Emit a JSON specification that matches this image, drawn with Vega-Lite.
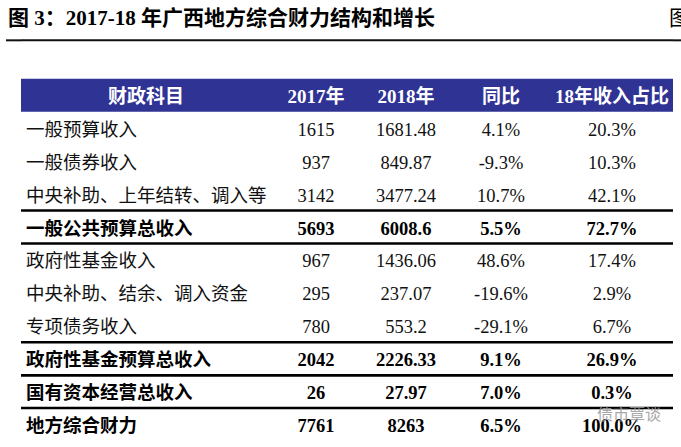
{
  "$schema": "https://vega.github.io/schema/vega-lite/v6.json",
  "background": "white",
  "padding": {"left": 5, "top": 7, "right": 0, "bottom": 0},
  "spacing": 0,
  "bounds": "flush",
  "config": {
    "view": {"stroke": null},
    "locale": {"number": {"decimal": ".", "thousands": ",", "grouping": [3], "currency": ["$", ""], "minus": "-"}}
  },
  "datasets": {
    "meta": [{"title": "图 3：2017-18 年广西地方综合财力结构和增长", "next": "图", "source": "债市覃谈"}],
    "columns": [
      {"col": "item", "label": "财政科目"},
      {"col": "v2017", "label": "2017年"},
      {"col": "v2018", "label": "2018年"},
      {"col": "yoy", "label": "同比"},
      {"col": "share", "label": "18年收入占比"}
    ],
    "rows": [
      {"row": 1, "item": "一般预算收入", "v2017": 1615, "v2018": 1681.48, "yoy": 0.041, "share": 0.203, "kind": "detail"},
      {"row": 2, "item": "一般债券收入", "v2017": 937, "v2018": 849.87, "yoy": -0.093, "share": 0.103, "kind": "detail"},
      {"row": 3, "item": "中央补助、上年结转、调入等", "v2017": 3142, "v2018": 3477.24, "yoy": 0.107, "share": 0.421, "kind": "detail"},
      {"row": 4, "item": "一般公共预算总收入", "v2017": 5693, "v2018": 6008.6, "yoy": 0.055, "share": 0.727, "kind": "subtotal"},
      {"row": 5, "item": "政府性基金收入", "v2017": 967, "v2018": 1436.06, "yoy": 0.486, "share": 0.174, "kind": "detail"},
      {"row": 6, "item": "中央补助、结余、调入资金", "v2017": 295, "v2018": 237.07, "yoy": -0.196, "share": 0.029, "kind": "detail"},
      {"row": 7, "item": "专项债务收入", "v2017": 780, "v2018": 553.2, "yoy": -0.291, "share": 0.067, "kind": "detail"},
      {"row": 8, "item": "政府性基金预算总收入", "v2017": 2042, "v2018": 2226.33, "yoy": 0.091, "share": 0.269, "kind": "subtotal"},
      {"row": 9, "item": "国有资本经营总收入", "v2017": 26, "v2018": 27.97, "yoy": 0.07, "share": 0.003, "kind": "subtotal"},
      {"row": 10, "item": "地方综合财力", "v2017": 7761, "v2018": 8263, "yoy": 0.065, "share": 1, "kind": "total"}
    ]
  },
  "hconcat": [
    {
      "width": 15, "height": 428,
      "layer": [
        {"data": {"name": "meta"}, "transform": [{"calculate": "-2", "as": "slot"}], "mark": {"type": "rule", "strokeWidth": 2, "color": "#111"},
         "encoding": {"y": {"field": "slot", "type": "ordinal", "bandPosition": 0.83, "scale": {"type": "band", "domain": [-2,-1,0,1,2,3,4,5,6,7,8,9,10], "paddingInner": 0, "paddingOuter": 0}, "axis": null}}},
        {"data": {"name": "meta"}, "mark": {"type": "text", "align": "left", "baseline": "middle", "dx": 2, "font": "Liberation Serif, Noto Sans CJK SC", "fontSize": 21, "fontWeight": "bold", "color": "#000"},
         "encoding": {
           "x": {"datum": "t", "type": "nominal", "bandPosition": 0, "scale": {"type": "band", "paddingInner": 0, "paddingOuter": 0}, "axis": null},
           "y": {"datum": -2, "type": "ordinal", "bandPosition": 0.18, "scale": {"type": "band", "domain": [-2,-1,0,1,2,3,4,5,6,7,8,9,10], "paddingInner": 0, "paddingOuter": 0}, "axis": null},
           "text": {"field": "title"}}}
      ]
    },
    {
      "width": 250, "height": 428,
      "layer": [
        {"data": {"name": "meta"}, "mark": {"type": "rect", "color": "#2F3394"},
         "encoding": {"y": {"datum": 0, "type": "ordinal", "scale": {"type": "band", "domain": [-2,-1,0,1,2,3,4,5,6,7,8,9,10], "paddingInner": 0, "paddingOuter": 0}, "axis": null}}},
        {"data": {"name": "meta"}, "transform": [{"calculate": "-2", "as": "slot"}], "mark": {"type": "rule", "strokeWidth": 2, "color": "#111"},
         "encoding": {"y": {"field": "slot", "type": "ordinal", "bandPosition": 0.83, "scale": {"type": "band", "domain": [-2,-1,0,1,2,3,4,5,6,7,8,9,10], "paddingInner": 0, "paddingOuter": 0}, "axis": null}}},
        {"data": {"name": "rows"}, "transform": [{"filter": "datum.kind === 'subtotal'"}], "mark": {"type": "rule", "strokeWidth": 2.5, "color": "#000"},
         "encoding": {"y": {"field": "row", "type": "ordinal", "bandPosition": 0, "scale": {"type": "band", "domain": [-2,-1,0,1,2,3,4,5,6,7,8,9,10], "paddingInner": 0, "paddingOuter": 0}, "axis": null}}},
        {"data": {"name": "rows"}, "transform": [{"filter": "datum.kind === 'subtotal'"}], "mark": {"type": "rule", "strokeWidth": 2.5, "color": "#000"},
         "encoding": {"y": {"field": "row", "type": "ordinal", "bandPosition": 1, "scale": {"type": "band", "domain": [-2,-1,0,1,2,3,4,5,6,7,8,9,10], "paddingInner": 0, "paddingOuter": 0}, "axis": null}}},
        {"data": {"name": "columns"}, "transform": [{"filter": "datum.col === 'item'"}], "mark": {"type": "text", "dy": 2, "font": "Liberation Serif, Noto Sans CJK SC", "fontSize": 19, "fontWeight": "bold", "color": "white"},
         "encoding": {"y": {"datum": 0, "type": "ordinal", "scale": {"type": "band", "domain": [-2,-1,0,1,2,3,4,5,6,7,8,9,10], "paddingInner": 0, "paddingOuter": 0}, "axis": null}, "text": {"field": "label"}}},
        {"data": {"name": "rows"}, "transform": [{"filter": "datum.kind === 'detail'"}], "mark": {"type": "text", "align": "left", "dx": 5, "dy": 1.5, "font": "Liberation Serif, Noto Sans CJK SC", "fontSize": 18.5, "color": "#111"},
         "encoding": {
           "x": {"datum": "t", "type": "nominal", "bandPosition": 0, "scale": {"type": "band", "paddingInner": 0, "paddingOuter": 0}, "axis": null},
           "y": {"field": "row", "type": "ordinal", "scale": {"type": "band", "domain": [-2,-1,0,1,2,3,4,5,6,7,8,9,10], "paddingInner": 0, "paddingOuter": 0}, "axis": null},
           "text": {"field": "item"}}},
        {"data": {"name": "rows"}, "transform": [{"filter": "datum.kind !== 'detail'"}], "mark": {"type": "text", "align": "left", "dx": 5, "dy": 1.5, "font": "Liberation Serif, Noto Sans CJK SC", "fontSize": 18.5, "fontWeight": "bold", "color": "#000"},
         "encoding": {
           "x": {"datum": "t", "type": "nominal", "bandPosition": 0, "scale": {"type": "band", "paddingInner": 0, "paddingOuter": 0}, "axis": null},
           "y": {"field": "row", "type": "ordinal", "scale": {"type": "band", "domain": [-2,-1,0,1,2,3,4,5,6,7,8,9,10], "paddingInner": 0, "paddingOuter": 0}, "axis": null},
           "text": {"field": "item"}}}
      ]
    },
    {
      "width": 90, "height": 428,
      "layer": [
        {"data": {"name": "meta"}, "mark": {"type": "rect", "color": "#2F3394"},
         "encoding": {"y": {"datum": 0, "type": "ordinal", "scale": {"type": "band", "domain": [-2,-1,0,1,2,3,4,5,6,7,8,9,10], "paddingInner": 0, "paddingOuter": 0}, "axis": null}}},
        {"data": {"name": "meta"}, "transform": [{"calculate": "-2", "as": "slot"}], "mark": {"type": "rule", "strokeWidth": 2, "color": "#111"},
         "encoding": {"y": {"field": "slot", "type": "ordinal", "bandPosition": 0.83, "scale": {"type": "band", "domain": [-2,-1,0,1,2,3,4,5,6,7,8,9,10], "paddingInner": 0, "paddingOuter": 0}, "axis": null}}},
        {"data": {"name": "rows"}, "transform": [{"filter": "datum.kind === 'subtotal'"}], "mark": {"type": "rule", "strokeWidth": 2.5, "color": "#000"},
         "encoding": {"y": {"field": "row", "type": "ordinal", "bandPosition": 0, "scale": {"type": "band", "domain": [-2,-1,0,1,2,3,4,5,6,7,8,9,10], "paddingInner": 0, "paddingOuter": 0}, "axis": null}}},
        {"data": {"name": "rows"}, "transform": [{"filter": "datum.kind === 'subtotal'"}], "mark": {"type": "rule", "strokeWidth": 2.5, "color": "#000"},
         "encoding": {"y": {"field": "row", "type": "ordinal", "bandPosition": 1, "scale": {"type": "band", "domain": [-2,-1,0,1,2,3,4,5,6,7,8,9,10], "paddingInner": 0, "paddingOuter": 0}, "axis": null}}},
        {"data": {"name": "columns"}, "transform": [{"filter": "datum.col === 'v2017'"}], "mark": {"type": "text", "dy": 2, "font": "Liberation Serif, Noto Sans CJK SC", "fontSize": 19, "fontWeight": "bold", "color": "white"},
         "encoding": {"y": {"datum": 0, "type": "ordinal", "scale": {"type": "band", "domain": [-2,-1,0,1,2,3,4,5,6,7,8,9,10], "paddingInner": 0, "paddingOuter": 0}, "axis": null}, "text": {"field": "label"}}},
        {"data": {"name": "rows"}, "transform": [{"filter": "datum.kind === 'detail'"}], "mark": {"type": "text", "dy": 1.5, "font": "Liberation Serif, Noto Sans CJK SC", "fontSize": 18.5, "color": "#111"},
         "encoding": {"y": {"field": "row", "type": "ordinal", "scale": {"type": "band", "domain": [-2,-1,0,1,2,3,4,5,6,7,8,9,10], "paddingInner": 0, "paddingOuter": 0}, "axis": null}, "text": {"field": "v2017", "type": "quantitative", "format": "~f"}}},
        {"data": {"name": "rows"}, "transform": [{"filter": "datum.kind !== 'detail'"}], "mark": {"type": "text", "dy": 1.5, "font": "Liberation Serif, Noto Sans CJK SC", "fontSize": 18.5, "fontWeight": "bold", "color": "#000"},
         "encoding": {"y": {"field": "row", "type": "ordinal", "scale": {"type": "band", "domain": [-2,-1,0,1,2,3,4,5,6,7,8,9,10], "paddingInner": 0, "paddingOuter": 0}, "axis": null}, "text": {"field": "v2017", "type": "quantitative", "format": "~f"}}}
      ]
    },
    {
      "width": 90, "height": 428,
      "layer": [
        {"data": {"name": "meta"}, "mark": {"type": "rect", "color": "#2F3394"},
         "encoding": {"y": {"datum": 0, "type": "ordinal", "scale": {"type": "band", "domain": [-2,-1,0,1,2,3,4,5,6,7,8,9,10], "paddingInner": 0, "paddingOuter": 0}, "axis": null}}},
        {"data": {"name": "meta"}, "transform": [{"calculate": "-2", "as": "slot"}], "mark": {"type": "rule", "strokeWidth": 2, "color": "#111"},
         "encoding": {"y": {"field": "slot", "type": "ordinal", "bandPosition": 0.83, "scale": {"type": "band", "domain": [-2,-1,0,1,2,3,4,5,6,7,8,9,10], "paddingInner": 0, "paddingOuter": 0}, "axis": null}}},
        {"data": {"name": "rows"}, "transform": [{"filter": "datum.kind === 'subtotal'"}], "mark": {"type": "rule", "strokeWidth": 2.5, "color": "#000"},
         "encoding": {"y": {"field": "row", "type": "ordinal", "bandPosition": 0, "scale": {"type": "band", "domain": [-2,-1,0,1,2,3,4,5,6,7,8,9,10], "paddingInner": 0, "paddingOuter": 0}, "axis": null}}},
        {"data": {"name": "rows"}, "transform": [{"filter": "datum.kind === 'subtotal'"}], "mark": {"type": "rule", "strokeWidth": 2.5, "color": "#000"},
         "encoding": {"y": {"field": "row", "type": "ordinal", "bandPosition": 1, "scale": {"type": "band", "domain": [-2,-1,0,1,2,3,4,5,6,7,8,9,10], "paddingInner": 0, "paddingOuter": 0}, "axis": null}}},
        {"data": {"name": "columns"}, "transform": [{"filter": "datum.col === 'v2018'"}], "mark": {"type": "text", "dy": 2, "font": "Liberation Serif, Noto Sans CJK SC", "fontSize": 19, "fontWeight": "bold", "color": "white"},
         "encoding": {"y": {"datum": 0, "type": "ordinal", "scale": {"type": "band", "domain": [-2,-1,0,1,2,3,4,5,6,7,8,9,10], "paddingInner": 0, "paddingOuter": 0}, "axis": null}, "text": {"field": "label"}}},
        {"data": {"name": "rows"}, "transform": [{"filter": "datum.kind === 'detail'"}], "mark": {"type": "text", "dy": 1.5, "font": "Liberation Serif, Noto Sans CJK SC", "fontSize": 18.5, "color": "#111"},
         "encoding": {"y": {"field": "row", "type": "ordinal", "scale": {"type": "band", "domain": [-2,-1,0,1,2,3,4,5,6,7,8,9,10], "paddingInner": 0, "paddingOuter": 0}, "axis": null}, "text": {"field": "v2018", "type": "quantitative", "format": "~f"}}},
        {"data": {"name": "rows"}, "transform": [{"filter": "datum.kind !== 'detail'"}], "mark": {"type": "text", "dy": 1.5, "font": "Liberation Serif, Noto Sans CJK SC", "fontSize": 18.5, "fontWeight": "bold", "color": "#000"},
         "encoding": {"y": {"field": "row", "type": "ordinal", "scale": {"type": "band", "domain": [-2,-1,0,1,2,3,4,5,6,7,8,9,10], "paddingInner": 0, "paddingOuter": 0}, "axis": null}, "text": {"field": "v2018", "type": "quantitative", "format": "~f"}}}
      ]
    },
    {
      "width": 100, "height": 428,
      "layer": [
        {"data": {"name": "meta"}, "mark": {"type": "rect", "color": "#2F3394"},
         "encoding": {"y": {"datum": 0, "type": "ordinal", "scale": {"type": "band", "domain": [-2,-1,0,1,2,3,4,5,6,7,8,9,10], "paddingInner": 0, "paddingOuter": 0}, "axis": null}}},
        {"data": {"name": "meta"}, "transform": [{"calculate": "-2", "as": "slot"}], "mark": {"type": "rule", "strokeWidth": 2, "color": "#111"},
         "encoding": {"y": {"field": "slot", "type": "ordinal", "bandPosition": 0.83, "scale": {"type": "band", "domain": [-2,-1,0,1,2,3,4,5,6,7,8,9,10], "paddingInner": 0, "paddingOuter": 0}, "axis": null}}},
        {"data": {"name": "rows"}, "transform": [{"filter": "datum.kind === 'subtotal'"}], "mark": {"type": "rule", "strokeWidth": 2.5, "color": "#000"},
         "encoding": {"y": {"field": "row", "type": "ordinal", "bandPosition": 0, "scale": {"type": "band", "domain": [-2,-1,0,1,2,3,4,5,6,7,8,9,10], "paddingInner": 0, "paddingOuter": 0}, "axis": null}}},
        {"data": {"name": "rows"}, "transform": [{"filter": "datum.kind === 'subtotal'"}], "mark": {"type": "rule", "strokeWidth": 2.5, "color": "#000"},
         "encoding": {"y": {"field": "row", "type": "ordinal", "bandPosition": 1, "scale": {"type": "band", "domain": [-2,-1,0,1,2,3,4,5,6,7,8,9,10], "paddingInner": 0, "paddingOuter": 0}, "axis": null}}},
        {"data": {"name": "columns"}, "transform": [{"filter": "datum.col === 'yoy'"}], "mark": {"type": "text", "dy": 2, "font": "Liberation Serif, Noto Sans CJK SC", "fontSize": 19, "fontWeight": "bold", "color": "white"},
         "encoding": {"y": {"datum": 0, "type": "ordinal", "scale": {"type": "band", "domain": [-2,-1,0,1,2,3,4,5,6,7,8,9,10], "paddingInner": 0, "paddingOuter": 0}, "axis": null}, "text": {"field": "label"}}},
        {"data": {"name": "rows"}, "transform": [{"filter": "datum.kind === 'detail'"}], "mark": {"type": "text", "dy": 1.5, "font": "Liberation Serif, Noto Sans CJK SC", "fontSize": 18.5, "color": "#111"},
         "encoding": {"y": {"field": "row", "type": "ordinal", "scale": {"type": "band", "domain": [-2,-1,0,1,2,3,4,5,6,7,8,9,10], "paddingInner": 0, "paddingOuter": 0}, "axis": null}, "text": {"field": "yoy", "type": "quantitative", "format": ".1%"}}},
        {"data": {"name": "rows"}, "transform": [{"filter": "datum.kind !== 'detail'"}], "mark": {"type": "text", "dy": 1.5, "font": "Liberation Serif, Noto Sans CJK SC", "fontSize": 18.5, "fontWeight": "bold", "color": "#000"},
         "encoding": {"y": {"field": "row", "type": "ordinal", "scale": {"type": "band", "domain": [-2,-1,0,1,2,3,4,5,6,7,8,9,10], "paddingInner": 0, "paddingOuter": 0}, "axis": null}, "text": {"field": "yoy", "type": "quantitative", "format": ".1%"}}}
      ]
    },
    {
      "width": 122, "height": 428,
      "layer": [
        {"data": {"name": "meta"}, "mark": {"type": "rect", "color": "#2F3394"},
         "encoding": {"y": {"datum": 0, "type": "ordinal", "scale": {"type": "band", "domain": [-2,-1,0,1,2,3,4,5,6,7,8,9,10], "paddingInner": 0, "paddingOuter": 0}, "axis": null}}},
        {"data": {"name": "meta"}, "transform": [{"calculate": "-2", "as": "slot"}], "mark": {"type": "rule", "strokeWidth": 2, "color": "#111"},
         "encoding": {"y": {"field": "slot", "type": "ordinal", "bandPosition": 0.83, "scale": {"type": "band", "domain": [-2,-1,0,1,2,3,4,5,6,7,8,9,10], "paddingInner": 0, "paddingOuter": 0}, "axis": null}}},
        {"data": {"name": "rows"}, "transform": [{"filter": "datum.kind === 'subtotal'"}], "mark": {"type": "rule", "strokeWidth": 2.5, "color": "#000"},
         "encoding": {"y": {"field": "row", "type": "ordinal", "bandPosition": 0, "scale": {"type": "band", "domain": [-2,-1,0,1,2,3,4,5,6,7,8,9,10], "paddingInner": 0, "paddingOuter": 0}, "axis": null}}},
        {"data": {"name": "rows"}, "transform": [{"filter": "datum.kind === 'subtotal'"}], "mark": {"type": "rule", "strokeWidth": 2.5, "color": "#000"},
         "encoding": {"y": {"field": "row", "type": "ordinal", "bandPosition": 1, "scale": {"type": "band", "domain": [-2,-1,0,1,2,3,4,5,6,7,8,9,10], "paddingInner": 0, "paddingOuter": 0}, "axis": null}}},
        {"data": {"name": "columns"}, "transform": [{"filter": "datum.col === 'share'"}], "mark": {"type": "text", "dy": 2, "font": "Liberation Serif, Noto Sans CJK SC", "fontSize": 19, "fontWeight": "bold", "color": "white"},
         "encoding": {"y": {"datum": 0, "type": "ordinal", "scale": {"type": "band", "domain": [-2,-1,0,1,2,3,4,5,6,7,8,9,10], "paddingInner": 0, "paddingOuter": 0}, "axis": null}, "text": {"field": "label"}}},
        {"data": {"name": "rows"}, "transform": [{"filter": "datum.kind === 'detail'"}], "mark": {"type": "text", "dy": 1.5, "font": "Liberation Serif, Noto Sans CJK SC", "fontSize": 18.5, "color": "#111"},
         "encoding": {"y": {"field": "row", "type": "ordinal", "scale": {"type": "band", "domain": [-2,-1,0,1,2,3,4,5,6,7,8,9,10], "paddingInner": 0, "paddingOuter": 0}, "axis": null}, "text": {"field": "share", "type": "quantitative", "format": ".1%"}}},
        {"data": {"name": "rows"}, "transform": [{"filter": "datum.kind !== 'detail'"}], "mark": {"type": "text", "dy": 1.5, "font": "Liberation Serif, Noto Sans CJK SC", "fontSize": 18.5, "fontWeight": "bold", "color": "#000"},
         "encoding": {"y": {"field": "row", "type": "ordinal", "scale": {"type": "band", "domain": [-2,-1,0,1,2,3,4,5,6,7,8,9,10], "paddingInner": 0, "paddingOuter": 0}, "axis": null}, "text": {"field": "share", "type": "quantitative", "format": ".1%"}}},
        {"data": {"name": "meta"}, "mark": {"type": "text", "dx": 17, "font": "Noto Sans CJK SC", "fontSize": 16, "color": "#9a9a9a", "opacity": 0.85},
         "encoding": {"y": {"datum": 10, "type": "ordinal", "bandPosition": 0.2, "scale": {"type": "band", "domain": [-2,-1,0,1,2,3,4,5,6,7,8,9,10], "paddingInner": 0, "paddingOuter": 0}, "axis": null}, "text": {"field": "source"}}}
      ]
    },
    {
      "width": 8, "height": 428,
      "layer": [
        {"data": {"name": "meta"}, "transform": [{"calculate": "-2", "as": "slot"}], "mark": {"type": "rule", "strokeWidth": 2, "color": "#111"},
         "encoding": {"y": {"field": "slot", "type": "ordinal", "bandPosition": 0.83, "scale": {"type": "band", "domain": [-2,-1,0,1,2,3,4,5,6,7,8,9,10], "paddingInner": 0, "paddingOuter": 0}, "axis": null}}},
        {"data": {"name": "meta"}, "mark": {"type": "text", "align": "left", "baseline": "middle", "dx": -4, "font": "Liberation Serif, Noto Sans CJK SC", "fontSize": 21, "color": "#000"},
         "encoding": {
           "x": {"datum": "t", "type": "nominal", "bandPosition": 0, "scale": {"type": "band", "paddingInner": 0, "paddingOuter": 0}, "axis": null},
           "y": {"datum": -2, "type": "ordinal", "bandPosition": 0.18, "scale": {"type": "band", "domain": [-2,-1,0,1,2,3,4,5,6,7,8,9,10], "paddingInner": 0, "paddingOuter": 0}, "axis": null},
           "text": {"field": "next"}}}
      ]
    }
  ]
}
